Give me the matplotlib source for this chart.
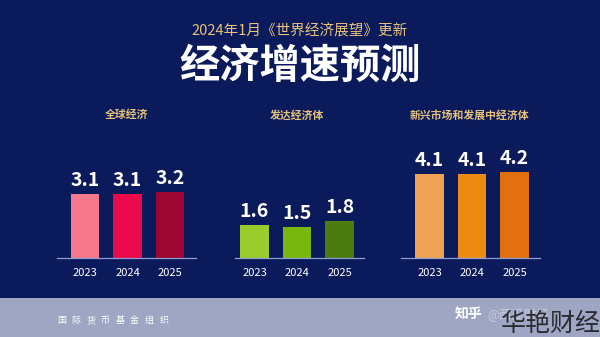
import matplotlib
matplotlib.use("Agg")
import matplotlib.pyplot as plt
from matplotlib.patches import Rectangle

plt.rcParams['font.family'] = ['Noto Sans CJK SC', 'DejaVu Sans']

# 数据
years = ['2023', '2024', '2025']
panel_titles = ['全球经济', '发达经济体', '新兴市场和发展中经济体']
global_growth = [3.1, 3.1, 3.2]
advanced_growth = [1.6, 1.5, 1.8]
emerging_growth = [4.1, 4.1, 4.2]

global_colors = ['#f5788c', '#e80a4a', '#9c0630']
advanced_colors = ['#9ccc2c', '#78b80e', '#4c7c10']
emerging_colors = ['#f0a254', '#ec8a12', '#e27010']

source = '国际货币基金组织'

W, H = 600, 337
BG = '#0b1a5a'
GOLD = '#e6c27a'

fig = plt.figure(figsize=(W / 100, H / 100), dpi=100)
fig.patch.set_facecolor(BG)


def fx(x):
    return x / W


def fy(y):
    return 1 - y / H


# 底部浅色条
fig.patches.append(Rectangle((0, 0), 1, fy(298), transform=fig.transFigure,
                             facecolor='#9ea6c3', edgecolor='none', zorder=0))

# 标题
fig.text(0.5, fy(32), '2024年1月《世界经济展望》更新', color=GOLD,
         fontsize=10.5, ha='center', va='center')
fig.text(0.5, fy(66), '经济增速预测', color='white', fontsize=29,
         fontweight='heavy', ha='center', va='center')

# 三个面板: (数据, 颜色, 轴线左, 轴线右, 第一根柱中心, 标题x)
panels = [
    (global_growth, global_colors, 57, 196, 85, 127),
    (advanced_growth, advanced_colors, 235, 364, 254.5, 297),
    (emerging_growth, emerging_colors, 401, 540, 429.5, 470),
]

base_y = 258
px_per_unit = 20.5
ymax = 5
px_per_slot = 42.5

for (vals, cols, left, right, c0, tx), title in zip(panels, panel_titles):
    ax = fig.add_axes([fx(left), fy(base_y), (right - left) / W,
                       ymax * px_per_unit / H])
    ax.set_facecolor('none')
    x0 = -(c0 - left) / px_per_slot
    x1 = x0 + (right - left) / px_per_slot
    ax.set_xlim(x0, x1)
    ax.set_ylim(0, ymax)
    x = range(len(vals))
    ax.bar(x, vals, width=0.66, color=cols, zorder=2)
    for i, v in zip(x, vals):
        ax.annotate(f'{v}', (i, v), xytext=(0, 3), textcoords='offset points',
                    ha='center', va='bottom', color='white', fontsize=14,
                    fontweight='heavy')
    for s in ['top', 'left', 'right']:
        ax.spines[s].set_visible(False)
    ax.spines['bottom'].set_color('#8e9cd0')
    ax.spines['bottom'].set_linewidth(0.9)
    ax.set_yticks([])
    ax.set_xticks(list(x))
    ax.set_xticklabels(years, color='white', fontsize=8)
    ax.tick_params(axis='x', length=0, pad=7)
    fig.text(fx(tx), fy(115), title, color=GOLD, fontsize=7.8,
             fontweight='bold', ha='center', va='center')

# 底部文字 (字间距较大)
for k, ch in enumerate(source):
    fig.text(fx(57 + k * 14.6), fy(321), ch, color='white', fontsize=6.5,
             ha='left', va='center')
fig.text(fx(455), fy(314), '知乎', color='white', fontsize=10,
         fontweight='bold', ha='left', va='center')
fig.text(fx(487), fy(314), '@西瓜财经', color='#dfe3ef', fontsize=9,
         ha='left', va='center', alpha=0.6)
fig.text(fx(601), fy(324), '华艳财经', color='#2a2a30', fontsize=18,
         fontweight='light', ha='right', va='center')

fig.savefig('out.png', dpi=100, facecolor=fig.get_facecolor())
